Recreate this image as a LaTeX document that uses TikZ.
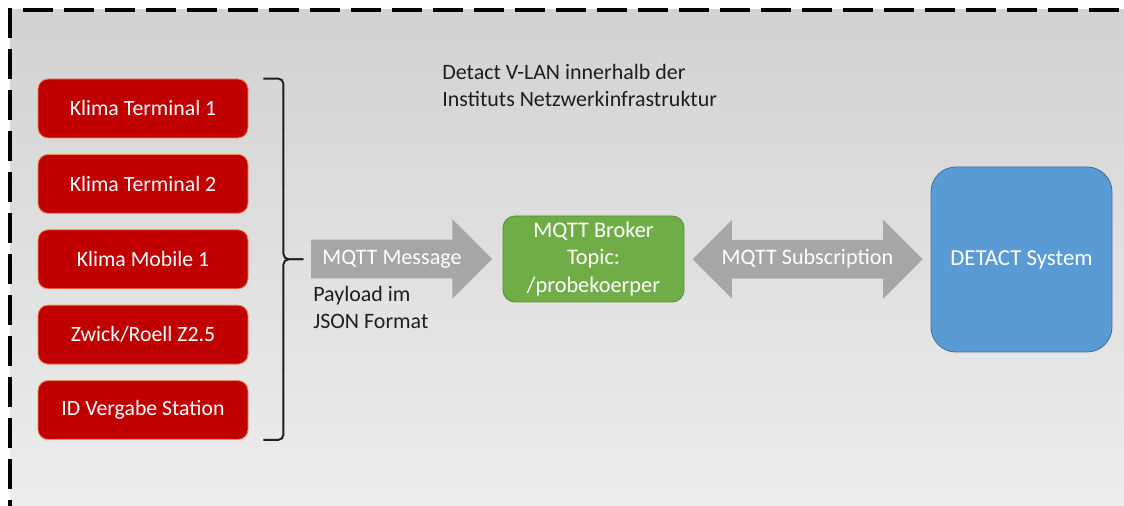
\documentclass[tikz,border=0pt]{standalone}
\usepackage{xcolor}
\usepackage{fontspec}
\setmainfont{Carlito}
\usepackage{tikz}
\usetikzlibrary{shapes.arrows, positioning, calc}
\definecolor{myred}{RGB}{192,0,0}
\definecolor{myredline}{RGB}{240,140,90}
\definecolor{mygreen}{RGB}{112,173,71}
\definecolor{mygreenline}{RGB}{90,140,58}
\definecolor{myblue}{RGB}{91,155,213}
\definecolor{mybluedark}{RGB}{65,113,156}
\definecolor{myarrow}{RGB}{166,166,166}
\definecolor{mytext}{RGB}{30,30,30}
\definecolor{bgtop}{RGB}{210,210,210}
\definecolor{bgbottom}{RGB}{238,238,238}
\tikzset{
  station/.style={rectangle, draw=myredline, fill=myred, text=white,
    minimum width=4.2cm, minimum height=1.18cm, rounded corners=0.2cm,
    line width=0.5pt, font=\fontsize{12.4}{15}\selectfont},
  brokerbox/.style={rectangle, draw=mygreenline, fill=mygreen, text=white,
    minimum width=3.62cm, minimum height=1.72cm, rounded corners=0.24cm,
    line width=0.5pt, align=center, font=\fontsize{12.7}{15.5}\selectfont},
  systembox/.style={rectangle, draw=mybluedark, fill=myblue, text=white,
    minimum width=3.62cm, minimum height=3.7cm, rounded corners=0.5cm,
    line width=0.5pt, font=\fontsize{13}{15}\selectfont},
  blockarrow/.style={fill=myarrow, text=white, text height=9pt, text depth=3pt,
    inner ysep=4.8pt, font=\fontsize{12.6}{15}\selectfont},
  bracket/.style={line width=1.1pt, color=mytext, rounded corners=3pt},
  note/.style={inner sep=0pt, align=left, text=mytext,
    font=\fontsize{12.5}{15.4}\selectfont},
  vlan/.style={dashed, dash pattern=on 0.6cm off 0.22cm, line width=2.8pt}
}

\begin{document}
\begin{tikzpicture}
  \useasboundingbox (0,0) rectangle (22.48,10.1);
  \clip (0,0) rectangle (22.48,10.1);

  % V-LAN area
  \shade[top color=bgtop, bottom color=bgbottom] (0.2,-0.5) rectangle (23,9.9);
  \draw[vlan] (0.2,-0.5) -- (0.2,9.9) -- (23,9.9);
  \node[note, anchor=north west] (vlanTitle) at (8.84,8.82)
    {Detact V-LAN innerhalb der\\Instituts Netzwerkinfrastruktur};

  % Stations
  \node[station] (term1) at (2.86,7.93) {Klima Terminal 1};
  \node[station, below=0.31cm of term1] (term2) {Klima Terminal 2};
  \node[station, below=0.31cm of term2] (mobile) {Klima Mobile 1};
  \node[station, below=0.31cm of mobile] (zwick) {Zwick/Roell Z2.5};
  \node[station, below=0.31cm of zwick] (idStation) {ID Vergabe Station};

  \coordinate (bTop) at ($(term1.north east)+(0.3,0)$);
  \coordinate (bBot) at ($(idStation.south east)+(0.3,0)$);
  \coordinate (bTip) at ($(mobile.east)+(1.1,0)$);
  \draw[bracket] (bTop) -- ++(0.4,0) |- (bTip);
  \draw[bracket] (bBot) -- ++(0.4,0) |- (bTip);

  % Broker and system
  \node[brokerbox] (broker) at (11.87,4.92) {MQTT Broker\\Topic:\\/probekoerper};
  \node[systembox] (detact) at (20.43,4.91) {DETACT System};

  \node[blockarrow, single arrow, single arrow head extend=0.41cm,
    minimum height=3.62cm] (msgArrow) at (7.84,4.92) {MQTT Message};
  \node[blockarrow, double arrow, double arrow head extend=0.4cm,
    minimum height=4.6cm] (subArrow) at ($(broker.east)!0.5!(detact.west)$) {MQTT Subscription};

  \node[note, anchor=north west] (payload) at (6.26,4.38) {Payload im\\JSON Format};
\end{tikzpicture}
\end{document}
